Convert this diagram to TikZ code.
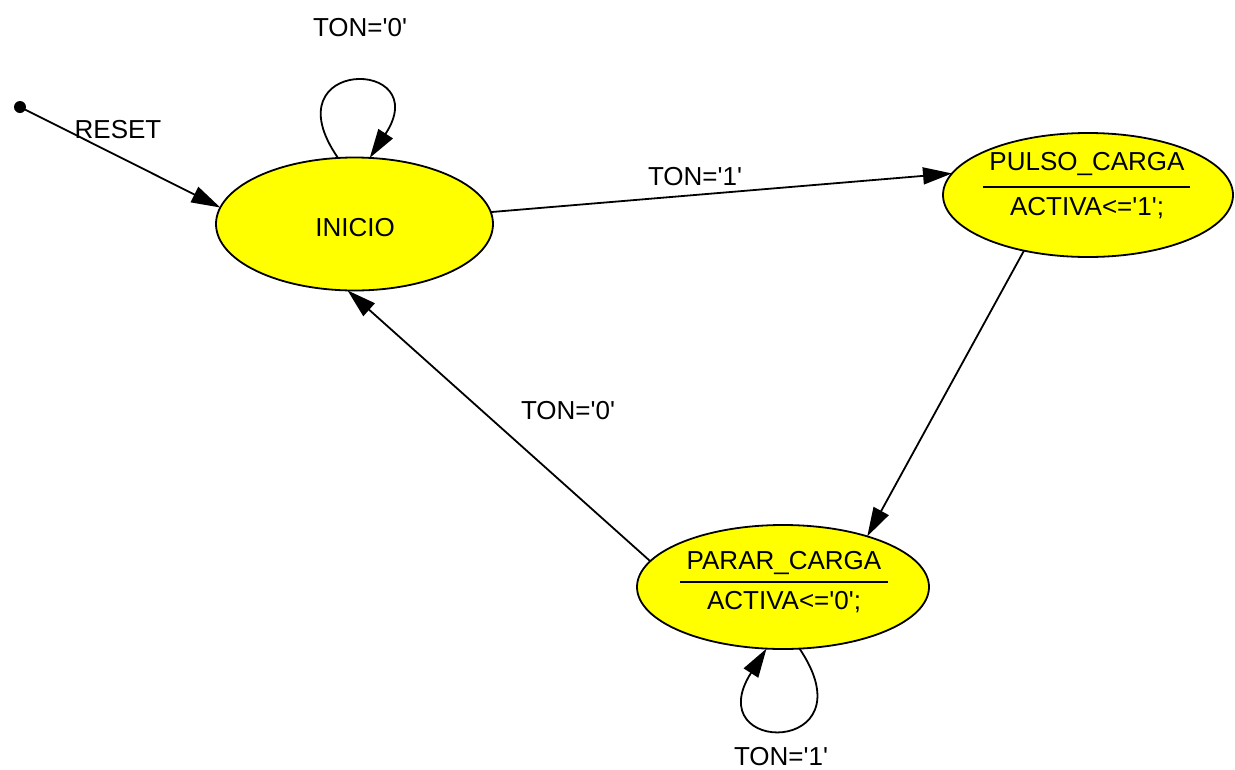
\documentclass[tikz,border=0pt]{standalone}
\usepackage{fontspec}
\setmainfont{Liberation Sans}
\usetikzlibrary{shapes.geometric,arrows.meta}
\definecolor{stfill}{RGB}{255,255,0}
\newcommand{\qt}{\textquotesingle}
\begin{document}
\begin{tikzpicture}[x=1pt,y=-1pt,
  state/.style={ellipse,draw=black,line width=1.8pt,fill=stfill,inner sep=0pt,outer sep=0pt},
  lbl/.style={inner sep=0pt,font=\fontsize{26}{30}\selectfont},
  tr/.style={draw=black,line width=1.8pt,-{Triangle[length=29pt,width=17pt]}},
  bar/.style={draw=black,line width=2pt}]
\useasboundingbox (0,0) rectangle (1235,769);

% states
\node[state,minimum width=277pt,minimum height=133pt] (ini) at (354.5,224) {};
\node[state,minimum width=290pt,minimum height=124pt] (pul) at (1088,195) {};
\node[state,minimum width=292pt,minimum height=124pt] (par) at (783,587) {};

\node[lbl] (tini) at (355,228) {INICIO};
\node[lbl] (tpul1) at (1087,164) {PULSO\_CARGA};
\node[lbl] (tpul2) at (1087,208) {ACTIVA<=\qt1\qt;};
\draw[bar] (983,187) -- (1190,187);
\node[lbl] (tpar1) at (784,563) {PARAR\_CARGA};
\node[lbl] (tpar2) at (784,602) {ACTIVA<=\qt0\qt;};
\draw[bar] (680,582) -- (888,582);

% reset entry
\coordinate (rst) at (20,107);
\fill (rst) circle (6pt);
\draw[tr] (rst) -- (ini.173);
\node[lbl] (lrst) at (118,130) {RESET};

% transitions
\draw[tr] (ini.5.8) -- (pul.171);
\node[lbl] (l1) at (695,177) {TON=\qt1\qt};

\draw[tr] (pul.221.4) -- (par.31.5);

\draw[tr] (par.169.4) -- (ini.264);
\node[lbl] (l2) at (568,411) {TON=\qt0\qt};

% self loops
\draw[tr] (ini.104.6) .. controls (268,57) and (436,57) .. (ini.77);
\node[lbl] (l3) at (360,28) {TON=\qt0\qt};

\draw[tr] (par.285) .. controls (872,756) and (698,756) .. (par.255.3);
\node[lbl] (l4) at (781,757) {TON=\qt1\qt};
\end{tikzpicture}
\end{document}
